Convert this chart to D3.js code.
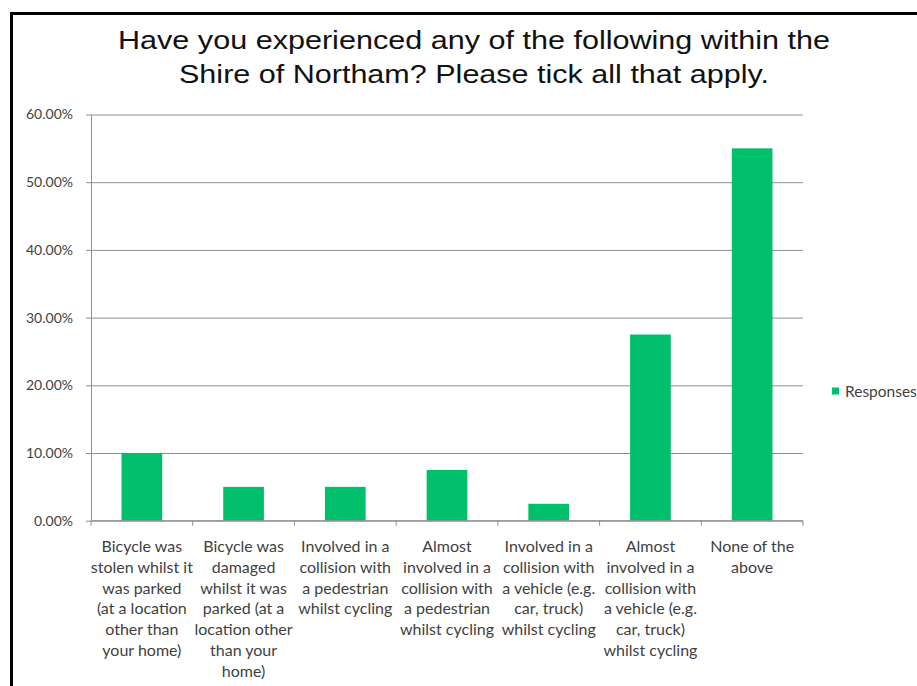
<!DOCTYPE html>
<html>
<head>
<meta charset="utf-8">
<script src="https://cdn.jsdelivr.net/npm/d3@7"></script>
<style>
  html, body { margin: 0; padding: 0; background: #fff; }
  svg { display: block; }
</style>
</head>
<body>
<svg id="chart" width="917" height="686"></svg>
<script>
// ---- data ----
const titleLines = [
  "Have you experienced any of the following within the",
  "Shire of Northam? Please tick all that apply."
];
const categories = [
  ["Bicycle was", "stolen whilst it", "was parked", "(at a location", "other than", "your home)"],
  ["Bicycle was", "damaged", "whilst it was", "parked (at a", "location other", "than your", "home)"],
  ["Involved in a", "collision with", "a pedestrian", "whilst cycling"],
  ["Almost", "involved in a", "collision with", "a pedestrian", "whilst cycling"],
  ["Involved in a", "collision with", "a vehicle (e.g.", "car, truck)", "whilst cycling"],
  ["Almost", "involved in a", "collision with", "a vehicle (e.g.", "car, truck)", "whilst cycling"],
  ["None of the", "above"]
];
const responses = [0.10, 0.05, 0.05, 0.075, 0.025, 0.275, 0.55];
const yTicks = [0, 0.1, 0.2, 0.3, 0.4, 0.5, 0.6];
const seriesName = "Responses";

// ---- layout ----
const svg = d3.select("#chart");
const plot = { left: 91, right: 803, top: 114.5, bottom: 520.7 };
const green = "#00bf6b";
const gridColor = "#8e8e8e";
const labelColor = "#3f3f3f";
const labelFont = "Lato, 'Open Sans', sans-serif";

// frame
svg.append("rect")
  .attr("x", 11.5).attr("y", 13.5)
  .attr("width", 940).attr("height", 700)
  .attr("fill", "#fff").attr("stroke", "#000").attr("stroke-width", 3);

// title
const titleWidths = [712, 590];
svg.append("g").selectAll("text").data(titleLines).join("text")
  .attr("x", 474)
  .attr("y", (d, i) => 48.5 + i * 34.5)
  .attr("text-anchor", "middle")
  .attr("font-family", "'Liberation Sans', Arial, sans-serif")
  .attr("font-size", 26)
  .attr("fill", "#111")
  .attr("textLength", (d, i) => titleWidths[i])
  .attr("lengthAdjust", "spacingAndGlyphs")
  .text(d => d);

// scales
const x = d3.scaleBand()
  .domain(d3.range(categories.length))
  .range([plot.left, plot.right])
  .paddingInner(0.6)
  .paddingOuter(0.3);
const y = d3.scaleLinear().domain([0, 0.6]).range([plot.bottom, plot.top]);

// y axis with gridlines
const yAxis = svg.append("g")
  .attr("transform", `translate(${plot.left},0)`)
  .call(d3.axisLeft(y).tickValues(yTicks).tickFormat(d3.format(".2%"))
    .tickSizeInner(5).tickSizeOuter(0).tickPadding(13));
yAxis.select(".domain").attr("stroke", gridColor);
yAxis.selectAll(".tick line")
  .attr("x1", -5).attr("x2", plot.right - plot.left)
  .attr("stroke", gridColor);
yAxis.selectAll(".tick text")
  .attr("font-family", labelFont)
  .attr("font-size", 14)
  .attr("fill", labelColor);

// bars
svg.append("g").selectAll("rect").data(responses).join("rect")
  .attr("x", (d, i) => x(i))
  .attr("width", x.bandwidth())
  .attr("y", d => y(d))
  .attr("height", d => y(0) - y(d))
  .attr("fill", green);

// x axis line and boundary ticks
const xg = svg.append("g");
xg.append("line")
  .attr("x1", plot.left).attr("x2", plot.right)
  .attr("y1", plot.bottom).attr("y2", plot.bottom)
  .attr("stroke", gridColor);
const boundaries = d3.range(categories.length + 1).map(i => plot.left + i * x.step());
xg.selectAll(".bt").data(boundaries).join("line")
  .attr("class", "bt")
  .attr("x1", d => d).attr("x2", d => d)
  .attr("y1", plot.bottom).attr("y2", plot.bottom + 5)
  .attr("stroke", gridColor);

// category labels
const catG = svg.append("g").selectAll("text").data(categories).join("text")
  .attr("text-anchor", "middle")
  .attr("font-family", labelFont)
  .attr("font-size", 16)
  .attr("fill", labelColor);
catG.selectAll("tspan").data((d, i) => d.map(line => ({ line, i }))).join("tspan")
  .attr("x", d => x(d.i) + x.bandwidth() / 2)
  .attr("y", (d, j) => 552 + j * 20.8)
  .text(d => d.line);

// legend
const lg = svg.append("g");
lg.append("rect").attr("x", 832).attr("y", 387.5).attr("width", 7).attr("height", 7).attr("fill", green);
lg.append("text").attr("x", 845).attr("y", 396.5)
  .attr("font-family", labelFont).attr("font-size", 15.5).attr("fill", labelColor)
  .text(seriesName);
</script>
</body>
</html>
